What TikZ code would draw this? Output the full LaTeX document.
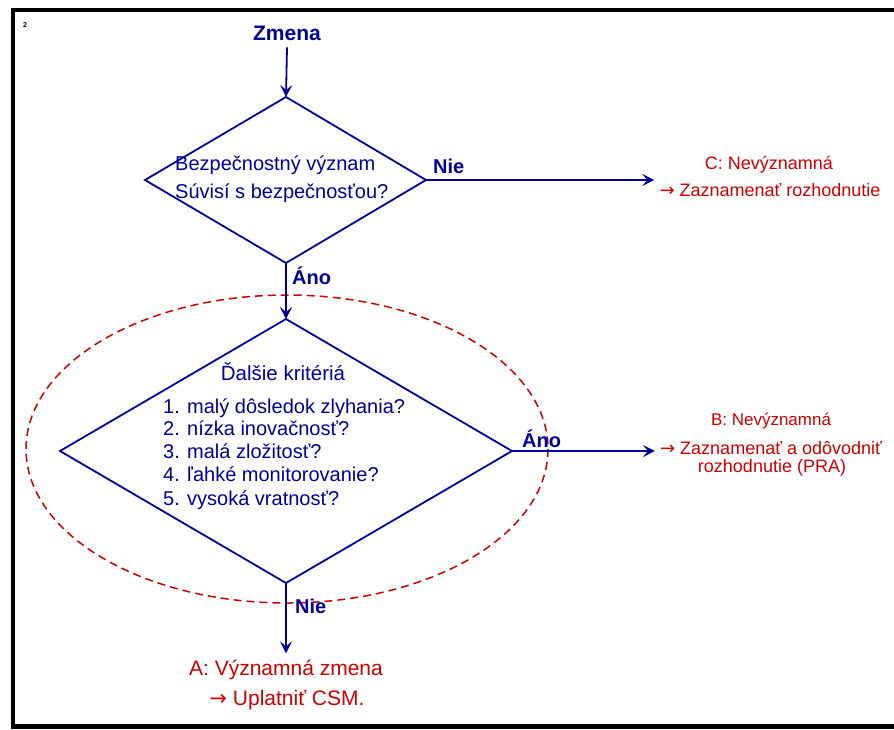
\documentclass[tikz,border=0pt]{standalone}
\usepackage{fontspec}
\setmainfont{Liberation Sans}
\newfontfamily\arrowfont{DejaVu Sans}
\usetikzlibrary{arrows.meta}
\definecolor{dblue}{RGB}{0,0,153}
\definecolor{dred}{RGB}{204,0,0}
\newcommand{\rarr}{{\arrowfont →}}
\tikzset{
  flow/.style={draw=dblue, line width=1.8pt, -{Stealth[length=12pt,width=12pt,inset=5pt]}},
  dia/.style={draw=dblue, line width=1.8pt, line join=miter},
  lbl/.style={text=dblue, font=\fontsize{20}{24}\selectfont, inner sep=0pt, anchor=base},
  blbl/.style={text=dblue, font=\bfseries\fontsize{20}{24}\selectfont, inner sep=0pt, anchor=base west},
  rlbl/.style={text=dred, font=\fontsize{18}{22}\selectfont, inner sep=0pt, anchor=base},
  itemlbl/.style={lbl, anchor=base west},
  zone/.style={draw=dred, line width=1.5pt, dash pattern=on 8pt off 5pt},
}
\begin{document}
\begin{tikzpicture}[x=1pt,y=-1pt]
\useasboundingbox (0,0) rectangle (894,729);
\fill[white] (0,0) rectangle (894,729);
% frame
\fill[black] (11,8) rectangle (894,12);
\fill[black] (11,8) rectangle (15,729);
\fill[black] (11,724) rectangle (894,729);
\node[font=\bfseries\fontsize{7}{8}\selectfont, inner sep=0pt, anchor=base] (pg) at (25,27) {2};

% top
\node[lbl, font=\bfseries\fontsize{21}{25}\selectfont] (zmena) at (287,40) {Zmena};
\coordinate (d1t) at (286,97);
\coordinate (d1l) at (145,180);
\coordinate (d1r) at (426,180);
\coordinate (d1b) at (286,263);
\draw[dia] (d1t) -- (d1r) -- (d1b) -- (d1l) -- cycle;
\draw[flow] ([yshift=-7pt]zmena.south) -- (d1t);
\node[itemlbl] (q1a) at (175,170) {Bezpečnostný význam};
\node[itemlbl] (q1b) at (175,198) {Súvisí s bezpečnosťou?};

% C branch
\node[blbl] (nie1) at (433,173) {Nie};
\node[rlbl] (c1) at (769,169) {C: Nevýznamná};
\node[rlbl] (c2) at (770,196) {\rarr\ Zaznamenať rozhodnutie};
\draw[flow, shorten >=5pt] (d1r) -- (d1r -| c2.west);

% second decision
\node[blbl] (ano1) at (292,284) {Áno};
\coordinate (d2t) at (286,319);
\coordinate (d2l) at (60,451);
\coordinate (d2r) at (512,451);
\coordinate (d2b) at (286,583);
\draw[zone] (287,449) ellipse [x radius=261, y radius=154];
\draw[flow] (d1b) -- (d2t);
\draw[dia] (d2t) -- (d2r) -- (d2b) -- (d2l) -- cycle;
\node[lbl, font=\fontsize{20.5}{24}\selectfont] (krit) at (283,380) {Ďalšie kritériá};
\node[itemlbl] (k1) at (163,413) {\makebox[24pt][l]{1.}malý dôsledok zlyhania?};
\node[itemlbl] (k2) at (163,435) {\makebox[24pt][l]{2.}nízka inovačnosť?};
\node[itemlbl] (k3) at (163,458) {\makebox[24pt][l]{3.}malá zložitosť?};
\node[itemlbl] (k4) at (163,481) {\makebox[24pt][l]{4.}ľahké monitorovanie?};
\node[itemlbl] (k5) at (163,505) {\makebox[24pt][l]{5.}vysoká vratnosť?};

% B branch
\node[blbl] (ano2) at (522,447) {Áno};
\node[rlbl, font=\fontsize{17}{21}\selectfont] (b1) at (771,425) {B: Nevýznamná};
\node[rlbl] (b2) at (771,454) {\rarr\ Zaznamenať a odôvodniť};
\node[rlbl] (b3) at (772,472) {rozhodnutie (PRA)};
\draw[flow, shorten >=5pt] (d2r) -- (d2r -| b2.west);

% A branch
\node[blbl] (nie2) at (295,613) {Nie};
\node[rlbl, font=\fontsize{21}{25}\selectfont] (a1) at (286,675) {A: Významná zmena};
\node[rlbl, font=\fontsize{21}{25}\selectfont] (a2) at (287,705) {\rarr\ Uplatniť CSM.};
\draw[flow] (d2b) -- ([yshift=6pt]a1.north -| d2b);
\end{tikzpicture}
\end{document}
